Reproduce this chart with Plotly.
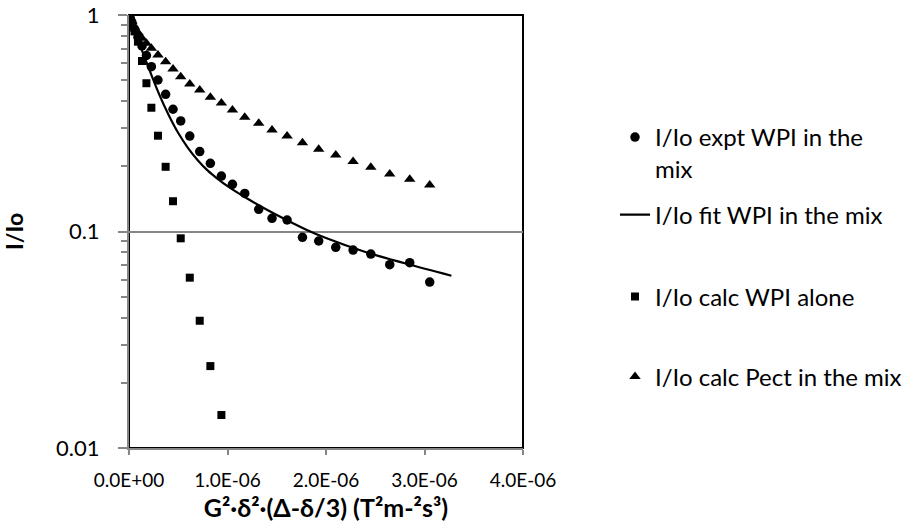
import plotly.graph_objects as go

# Shared abscissa values G^2*delta^2*(Delta-delta/3) (T^2 m^-2 s^3)
x_vals = [0.003e-6, 0.014e-6, 0.031e-6, 0.056e-6, 0.091e-6, 0.132e-6, 0.177e-6,
          0.227e-6, 0.294e-6, 0.372e-6, 0.447e-6, 0.525e-6, 0.617e-6, 0.718e-6,
          0.826e-6, 0.938e-6, 1.050e-6, 1.175e-6, 1.317e-6, 1.452e-6, 1.605e-6,
          1.761e-6, 1.926e-6, 2.099e-6, 2.275e-6, 2.455e-6, 2.647e-6, 2.850e-6,
          3.053e-6]

expt_wpi_mix = [0.99, 0.96, 0.92, 0.86, 0.79, 0.72, 0.65,
                0.577, 0.501, 0.430, 0.367, 0.324, 0.276, 0.234,
                0.2065, 0.1804, 0.1652, 0.150, 0.1266, 0.115, 0.113,
                0.0940, 0.0904, 0.0845, 0.0821, 0.0787, 0.0703, 0.0718,
                0.0584]

calc_wpi_alone = [0.99, 0.96, 0.91, 0.84, 0.753, 0.613, 0.484, 0.373,
                  0.277, 0.199, 0.138, 0.093, 0.0612, 0.0387, 0.0239, 0.0142]

calc_pect_mix = [0.99, 0.97, 0.93, 0.88, 0.83, 0.78, 0.74,
                 0.702, 0.653, 0.609, 0.563, 0.519, 0.480, 0.450,
                 0.417, 0.392, 0.364, 0.337, 0.316, 0.294, 0.276,
                 0.257, 0.240, 0.2256, 0.2105, 0.198, 0.1843, 0.1742,
                 0.164]

fit_x = [0.0, 0.1e-6, 0.2e-6, 0.3e-6, 0.4e-6, 0.5e-6, 0.6e-6, 0.7e-6, 0.8e-6,
         0.9e-6, 1.0e-6, 1.2e-6, 1.4e-6, 1.6e-6, 1.8e-6, 2.0e-6, 2.4e-6,
         2.8e-6, 3.273e-6]
fit_wpi_mix = [1.0, 0.750, 0.569, 0.437, 0.347, 0.285, 0.243, 0.213, 0.191,
               0.175, 0.162, 0.142, 0.126, 0.113, 0.102, 0.0933, 0.0804,
               0.0713, 0.0625]

x_tickvals = [0.0, 1.0e-6, 2.0e-6, 3.0e-6, 4.0e-6]
x_ticktext = ["0.0E+00", "1.0E-06", "2.0E-06", "3.0E-06", "4.0E-06"]
y_tickvals = [0.01, 0.1, 1]
y_ticktext = ["0.01", "0.1", "1"]
y_minor = [0.02, 0.03, 0.04, 0.05, 0.06, 0.07, 0.08, 0.09,
           0.2, 0.3, 0.4, 0.5, 0.6, 0.7, 0.8, 0.9]

names = ["I/Io expt WPI in the<br>mix", "I/Io fit WPI in the mix",
         "I/Io calc WPI alone", "I/Io calc Pect in the mix"]

FONT = "Lato, 'Open Sans', sans-serif"
GRAY = "#868686"

fig = go.Figure()
fig.add_trace(go.Scatter(x=x_vals, y=expt_wpi_mix, mode="markers", name=names[0],
                         marker=dict(symbol="circle", size=9.5, color="black"),
                         legend="legend", showlegend=True))
fig.add_trace(go.Scatter(x=fit_x, y=fit_wpi_mix, mode="lines", name=names[1],
                         line=dict(color="black", width=2.2, shape="spline", smoothing=1),
                         legend="legend2", showlegend=True))
fig.add_trace(go.Scatter(x=x_vals[:len(calc_wpi_alone)], y=calc_wpi_alone, mode="markers",
                         name=names[2],
                         marker=dict(symbol="square", size=8, color="black"),
                         legend="legend3", showlegend=True))
fig.add_trace(go.Scatter(x=x_vals, y=calc_pect_mix, mode="markers", name=names[3],
                         marker=dict(symbol="triangle-up", size=10, color="black"),
                         legend="legend4", showlegend=True))

W, H = 912, 529
L, R, T, B = 129, 389, 15, 81
pw, ph = W - L - R, H - T - B


def lx(px):
    return (px - L) / pw


def ly(py):
    return 1 - (py - T) / ph


legend_common = dict(font=dict(family=FONT, size=24, color="black"),
                     bgcolor="rgba(0,0,0,0)", xanchor="left", yanchor="middle",
                     valign="top", itemwidth=30)

fig.update_layout(
    width=W, height=H,
    margin=dict(l=L, r=R, t=T, b=B, pad=0, autoexpand=False),
    paper_bgcolor="white", plot_bgcolor="white",
    font=dict(family=FONT, color="black"),
    showlegend=True,
    legend=dict(x=lx(615), y=ly(153), **legend_common),
    legend2=dict(x=lx(615), y=ly(215), **legend_common),
    legend3=dict(x=lx(615), y=ly(297), **legend_common),
    legend4=dict(x=lx(615), y=ly(377), **legend_common),
    xaxis=dict(range=[0, 4.0e-6], tickvals=x_tickvals, ticktext=x_ticktext,
               automargin=False,
               showgrid=False, zeroline=False, showline=True, linecolor=GRAY, linewidth=2,
               ticks="outside", ticklen=5, tickwidth=1.5, tickcolor=GRAY,
               ticklabelstandoff=9,
               tickfont=dict(family=FONT, size=19, color="black"),
               title=dict(text="<b>G²·δ²·(Δ-δ/3) (T²m-²s³)</b>",
                          font=dict(family=FONT, size=25, color="black"), standoff=10)),
    yaxis=dict(type="log", range=[-2, 0], tickvals=y_tickvals, ticktext=y_ticktext,
               automargin=False,
               showgrid=True, gridcolor=GRAY, gridwidth=2, zeroline=False,
               showline=True, linecolor=GRAY, linewidth=2,
               ticks="outside", ticklen=9, tickwidth=1.5, tickcolor=GRAY,
               ticklabelstandoff=14,
               tickfont=dict(family=FONT, size=22, color="black"),
               minor=dict(tickvals=y_minor, ticks="outside", ticklen=6, tickwidth=1.5,
                          tickcolor=GRAY, showgrid=False),
               title=dict(text="<b>I/Io</b>", font=dict(family=FONT, size=23, color="black"),
                          standoff=26)),
    shapes=[dict(type="rect", xref="paper", yref="paper", x0=0, x1=1, y0=0, y1=1,
                 line=dict(color="black", width=2), layer="below")],
)

fig.write_html("out.html")
